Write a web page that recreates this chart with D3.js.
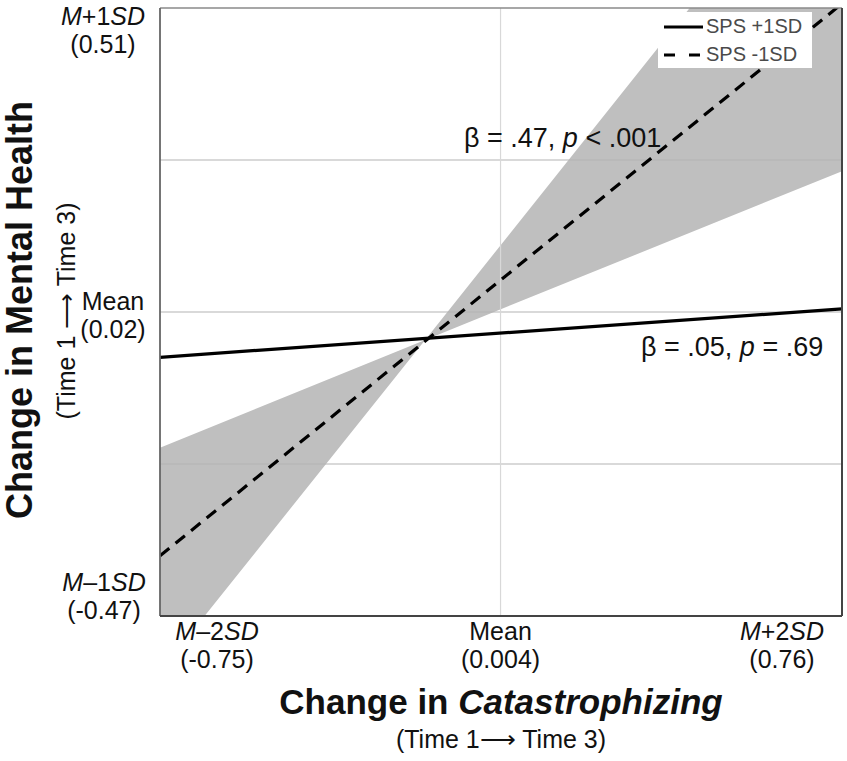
<!DOCTYPE html>
<html>
<head>
<meta charset="utf-8">
<script src="https://cdn.jsdelivr.net/npm/d3@7"></script>
<style>
  body { margin: 0; background: #fff; }
  text { font-family: "Liberation Sans", Arial, sans-serif; }
</style>
</head>
<body>
<svg id="chart"></svg>
<script>
// Data
const xDomain = [-0.75, 0.76];
const yDomain = [-0.47, 0.51];

const xTickValues = [-0.75, 0.004, 0.76];
const xTickTop = [["M", "–2", "SD"], ["Mean"], ["M", "+2", "SD"]];
const xTickBottom = ["(-0.75)", "(0.004)", "(0.76)"];

const yTickValues = [0.51, 0.02, -0.47];
const yTickTop = [["M", "+1", "SD"], ["Mean"], ["M", "–1", "SD"]];
const yTickBottom = ["(0.51)", "(0.02)", "(-0.47)"];

const yGrid = [0.265, 0.02, -0.225];
const xGrid = [0.004];

// simple slopes (ends of each line)
const lineX = [-0.75, 0.76];
const spsHigh = [-0.053, 0.025];   // SPS +1SD
const spsLow = [-0.373, 0.517];    // SPS -1SD

// confidence band around SPS -1SD
const bandX = [-0.75, -0.163, 0.76];
const bandLower = [-0.56, -0.025, 0.247];
const bandUpper = [-0.199, -0.025, 0.818];

const width = 847;
const height = 761;
const plot = {left: 160, right: 842, top: 8, bottom: 616};

const x = d3.scaleLinear().domain(xDomain).range([plot.left, plot.right]);
const y = d3.scaleLinear().domain(yDomain).range([plot.bottom, plot.top]);

const svg = d3.select("#chart")
    .attr("width", width)
    .attr("height", height)
    .attr("viewBox", [0, 0, width, height]);

svg.append("defs").append("clipPath")
    .attr("id", "clip")
  .append("rect")
    .attr("x", plot.left)
    .attr("y", plot.top)
    .attr("width", plot.right - plot.left)
    .attr("height", plot.bottom - plot.top);

const inner = svg.append("g").attr("clip-path", "url(#clip)");

// band
const band = bandX.map((d, i) => ({x: d, lo: bandLower[i], hi: bandUpper[i]}));
inner.append("path")
    .datum(band)
    .attr("fill", "#bfbfbf")
    .attr("d", d3.area()
        .x(d => x(d.x))
        .y0(d => y(d.lo))
        .y1(d => y(d.hi)));

// grid
inner.append("g")
    .selectAll("line")
    .data(yGrid)
    .join("line")
      .attr("x1", plot.left)
      .attr("x2", plot.right)
      .attr("y1", d => y(d))
      .attr("y2", d => y(d))
      .attr("stroke", "#b4b4b4")
      .attr("stroke-width", 1.2);

inner.append("g")
    .selectAll("line")
    .data(xGrid)
    .join("line")
      .attr("x1", d => x(d))
      .attr("x2", d => x(d))
      .attr("y1", plot.top)
      .attr("y2", plot.bottom)
      .attr("stroke", "#d8d8d8")
      .attr("stroke-width", 1.2);

// lines
const line = d3.line().x(d => x(d[0])).y(d => y(d[1]));

inner.append("path")
    .datum(lineX.map((d, i) => [d, spsHigh[i]]))
    .attr("fill", "none")
    .attr("stroke", "#000")
    .attr("stroke-width", 3.2)
    .attr("d", line);

inner.append("path")
    .datum(lineX.map((d, i) => [d, spsLow[i]]))
    .attr("fill", "none")
    .attr("stroke", "#000")
    .attr("stroke-width", 3.2)
    .attr("stroke-dasharray", "12,8")
    .attr("d", line);

// frame
svg.append("line")
    .attr("x1", plot.left).attr("x2", plot.right)
    .attr("y1", plot.top).attr("y2", plot.top)
    .attr("stroke", "#8a8a8a").attr("stroke-width", 1.5);
svg.append("line")
    .attr("x1", plot.right).attr("x2", plot.right)
    .attr("y1", plot.top).attr("y2", plot.bottom)
    .attr("stroke", "#444").attr("stroke-width", 2);
svg.append("line")
    .attr("x1", plot.left).attr("x2", plot.left)
    .attr("y1", plot.top).attr("y2", plot.bottom)
    .attr("stroke", "#666").attr("stroke-width", 1.8);
svg.append("line")
    .attr("x1", plot.left).attr("x2", plot.right)
    .attr("y1", plot.bottom).attr("y2", plot.bottom)
    .attr("stroke", "#444").attr("stroke-width", 2);

// legend
const legend = svg.append("g");
legend.append("rect")
    .attr("x", 658).attr("y", 12)
    .attr("width", 154).attr("height", 56)
    .attr("fill", "#fff");
const legendItems = [{label: "SPS +1SD", dash: null}, {label: "SPS -1SD", dash: "11,14"}];
legendItems.forEach((d, i) => {
  const ly = 27 + i * 28;
  legend.append("line")
      .attr("x1", 664).attr("x2", 703)
      .attr("y1", ly).attr("y2", ly)
      .attr("stroke", "#000")
      .attr("stroke-width", 3)
      .attr("stroke-dasharray", d.dash);
  legend.append("text")
      .attr("x", 706).attr("y", ly + 6)
      .attr("font-size", 20)
      .attr("fill", "#4a4a4a")
      .text(d.label);
});

// annotations
function richText(g, parts, opts) {
  const t = g.append("text")
      .attr("x", opts.x).attr("y", opts.y)
      .attr("font-size", opts.size)
      .attr("text-anchor", opts.anchor || "start")
      .attr("fill", opts.fill || "#111");
  parts.forEach(p => {
    t.append("tspan")
        .attr("font-style", p.italic ? "italic" : null)
        .text(p.text);
  });
  return t;
}

richText(svg, [{text: "β = .47, "}, {text: "p", italic: true}, {text: " < .001"}],
    {x: 464, y: 147, size: 27});
richText(svg, [{text: "β = .05, "}, {text: "p", italic: true}, {text: " = .69"}],
    {x: 641, y: 356, size: 27});

// tick labels
function tickParts(arr) {
  return arr.length === 1
    ? [{text: arr[0]}]
    : [{text: arr[0], italic: true}, {text: arr[1]}, {text: arr[2], italic: true}];
}

const xLabelX = [217, 501, 782];
xTickValues.forEach((v, i) => {
  const cx = i === 1 ? x(v) : xLabelX[i];
  richText(svg, tickParts(xTickTop[i]), {x: cx, y: 640, size: 25, anchor: "middle"});
  richText(svg, [{text: xTickBottom[i]}], {x: cx, y: 668, size: 25, anchor: "middle"});
});

const yOffsets = [17, -2, -25];
const yLabelX = [103, 113, 104];
yTickValues.forEach((v, i) => {
  const by = y(v) + yOffsets[i];
  richText(svg, tickParts(yTickTop[i]), {x: yLabelX[i], y: by, size: 25, anchor: "middle"});
  richText(svg, [{text: yTickBottom[i]}], {x: yLabelX[i], y: by + 28, size: 25, anchor: "middle"});
});

// axis titles
const xTitle = svg.append("text")
    .attr("x", 501).attr("y", 714)
    .attr("text-anchor", "middle")
    .attr("font-size", 35)
    .attr("font-weight", "bold")
    .attr("fill", "#111");
xTitle.append("tspan").text("Change in ");
xTitle.append("tspan").attr("font-style", "italic").text("Catastrophizing");

svg.append("text")
    .attr("x", 501).attr("y", 748)
    .attr("text-anchor", "middle")
    .attr("font-size", 25)
    .attr("fill", "#111")
    .text("(Time 1\u27F6 Time 3)");

svg.append("text")
    .attr("transform", "translate(32,310) rotate(-90)")
    .attr("text-anchor", "middle")
    .attr("font-size", 36)
    .attr("font-weight", "bold")
    .attr("fill", "#111")
    .text("Change in Mental Health");

svg.append("text")
    .attr("transform", "translate(75,311) rotate(-90)")
    .attr("text-anchor", "middle")
    .attr("font-size", 25)
    .attr("fill", "#111")
    .text("(Time 1 \u27F6 Time 3)");
</script>
</body>
</html>
